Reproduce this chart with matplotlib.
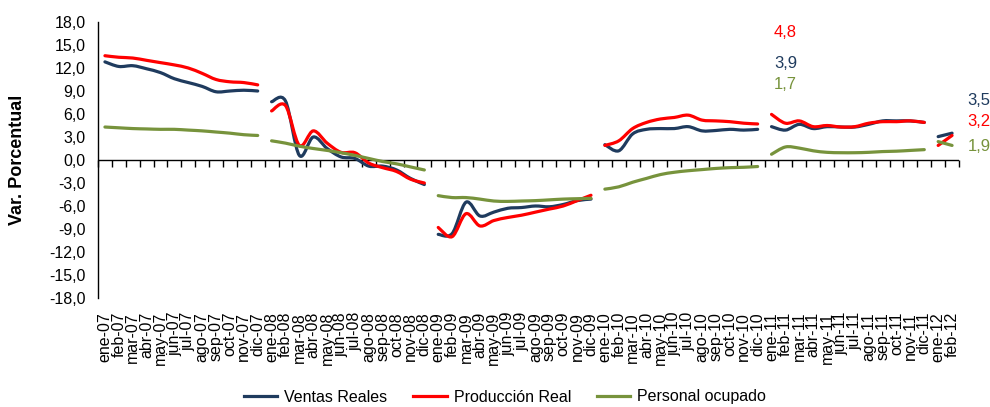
import matplotlib
matplotlib.use("Agg")
import matplotlib.pyplot as plt
import numpy as np
from matplotlib.path import Path
from matplotlib.patches import PathPatch
from matplotlib.lines import Line2D
from matplotlib.markers import TICKDOWN

plt.rcParams['font.family'] = ['Liberation Sans', 'DejaVu Sans']

meses = ['ene', 'feb', 'mar', 'abr', 'may', 'jun', 'jul', 'ago', 'sep', 'oct', 'nov', 'dic']
anios = ['07', '08', '09', '10', '11', '12']
etiquetas = [m + '-' + a for a in anios for m in meses][:62]

ventas = [
    12.8, 12.2, 12.3, 11.9, 11.4, 10.6, 10.1, 9.6, 8.9, 9.0, 9.1, 9.0,
    7.6, 7.7, 0.6, 3.0, 1.5, 0.4, 0.2, -0.8, -0.8, -1.3, -2.4, -3.2,
    -9.7, -9.6, -5.5, -7.3, -6.8, -6.3, -6.2, -6.0, -6.1, -5.8, -5.3, -5.1,
    2.0, 1.2, 3.4, 4.0, 4.1, 4.1, 4.35, 3.8, 3.85, 4.0, 3.9, 4.0,
    4.35, 3.9, 4.65, 4.1, 4.35, 4.3, 4.3, 4.65, 5.1, 5.1, 5.1, 4.9,
    3.05, 3.5,
]
produccion = [
    13.6, 13.4, 13.3, 13.0, 12.7, 12.4, 12.0, 11.3, 10.5, 10.2, 10.1, 9.8,
    6.4, 7.1, 1.9, 3.8, 2.2, 1.0, 0.95, -0.4, -1.0, -1.5, -2.5, -3.0,
    -8.8, -10.0, -7.0, -8.6, -7.9, -7.5, -7.2, -6.8, -6.4, -6.0, -5.3, -4.6,
    1.9, 2.5, 4.1, 4.9, 5.35, 5.55, 5.85, 5.2, 5.1, 5.0, 4.8, 4.7,
    5.95, 4.8, 5.1, 4.35, 4.5, 4.3, 4.35, 4.8, 5.0, 5.0, 5.1, 4.9,
    1.9, 3.2,
]
personal = [
    4.3, 4.2, 4.1, 4.05, 4.0, 4.0, 3.9, 3.8, 3.65, 3.5, 3.3, 3.2,
    2.5, 2.2, 1.8, 1.5, 1.25, 0.95, 0.6, 0.2, -0.2, -0.5, -0.9, -1.3,
    -4.65, -4.9, -4.9, -5.1, -5.35, -5.4, -5.35, -5.3, -5.2, -5.1, -5.05, -5.0,
    -3.8, -3.5, -2.9, -2.4, -1.9, -1.6, -1.4, -1.25, -1.1, -1.0, -0.95, -0.85,
    0.75, 1.7, 1.55, 1.2, 1.0, 0.95, 0.95, 1.0, 1.1, 1.15, 1.25, 1.35,
    2.4, 1.9,
]

series = [
    ('Ventas Reales', ventas, '#1F3B5E'),
    ('Producción Real', produccion, '#FF0000'),
    ('Personal ocupado', personal, '#77933C'),
]

y_ticks = np.arange(-18, 19, 3)


def fmt(v):
    return '{:.1f}'.format(v).replace('.', ',')


def smooth_path(xs, ys):
    # Excel-like smoothed line: cubic bezier through the data points
    pts = np.column_stack([xs, ys]).astype(float)
    verts = [pts[0]]
    codes = [Path.MOVETO]
    n = len(pts)
    for i in range(n - 1):
        p0 = pts[i - 1] if i > 0 else pts[i]
        p1 = pts[i]
        p2 = pts[i + 1]
        p3 = pts[i + 2] if i + 2 < n else pts[i + 1]
        verts += [p1 + (p2 - p0) / 6, p2 - (p3 - p1) / 6, p2]
        codes += [Path.CURVE4] * 3
    return Path(verts, codes)


fig = plt.figure(figsize=(9.9, 4.07), dpi=100)
ax = fig.add_axes([98 / 990, 1 - 298 / 407, 861 / 990, 276 / 407])

# zero line with tick marks on the category boundaries
bordes = np.arange(-0.5, len(etiquetas), 1.0)
ax.axhline(0, color='black', lw=1.0, zorder=1)
ax.plot(bordes, np.zeros_like(bordes), ls='none', marker=TICKDOWN,
        markersize=5, markeredgewidth=1.0, color='black', clip_on=False, zorder=1)

x = np.arange(len(etiquetas))
for name, vals, color in series:
    vals = np.array(vals)
    for start in range(0, len(vals), 12):
        seg = slice(start, start + 12)
        p = smooth_path(x[seg], vals[seg])
        ax.add_patch(PathPatch(p, fill=False, edgecolor=color, lw=2.3,
                               capstyle='round', joinstyle='round', zorder=2))

ax.set_xlim(-0.5, len(etiquetas) - 0.5)
ax.set_ylim(-18, 18)
ax.set_yticks(y_ticks)
ax.set_yticklabels([fmt(v) for v in y_ticks], fontsize=11.5)
ax.tick_params(axis='y', length=0, pad=9)
ax.set_xticks(x)
ax.set_xticklabels(etiquetas, rotation=90, fontsize=11.5)
ax.tick_params(axis='x', length=0, pad=10)
for s in ['top', 'right', 'bottom']:
    ax.spines[s].set_visible(False)
ax.spines['left'].set_linewidth(1.0)

fig.text(18 / 990, 1 - 160 / 407, 'Var. Porcentual', rotation=90,
         ha='center', va='center', fontsize=13, fontweight='bold')

# value labels
i_feb11 = 49
lab_kw = dict(ha='center', va='center', fontsize=12)
ax.text(i_feb11, 16.6, fmt(produccion[i_feb11]), color='#FF0000', **lab_kw)
ax.text(i_feb11, 12.6, fmt(ventas[i_feb11]), color='#1F3B5E', **lab_kw)
ax.text(i_feb11, 9.8, fmt(personal[i_feb11]), color='#77933C', **lab_kw)
i_last = len(etiquetas) - 1
ax.text(i_last + 1.95, 7.8, fmt(ventas[i_last]), color='#1F3B5E', clip_on=False, **lab_kw)
ax.text(i_last + 1.95, 5.0, fmt(produccion[i_last]), color='#FF0000', clip_on=False, **lab_kw)
ax.text(i_last + 1.95, 1.7, fmt(personal[i_last]), color='#77933C', clip_on=False, **lab_kw)

handles = [Line2D([], [], color=c, lw=2.3) for _, _, c in series]
fig.legend(handles, [n for n, _, _ in series], loc='center',
           bbox_to_anchor=(0.51, 1 - 397 / 407), ncol=3, frameon=False,
           fontsize=11.5, handlelength=2.1, columnspacing=1.6, handletextpad=0.45)

fig.savefig('out.png', dpi=100)
